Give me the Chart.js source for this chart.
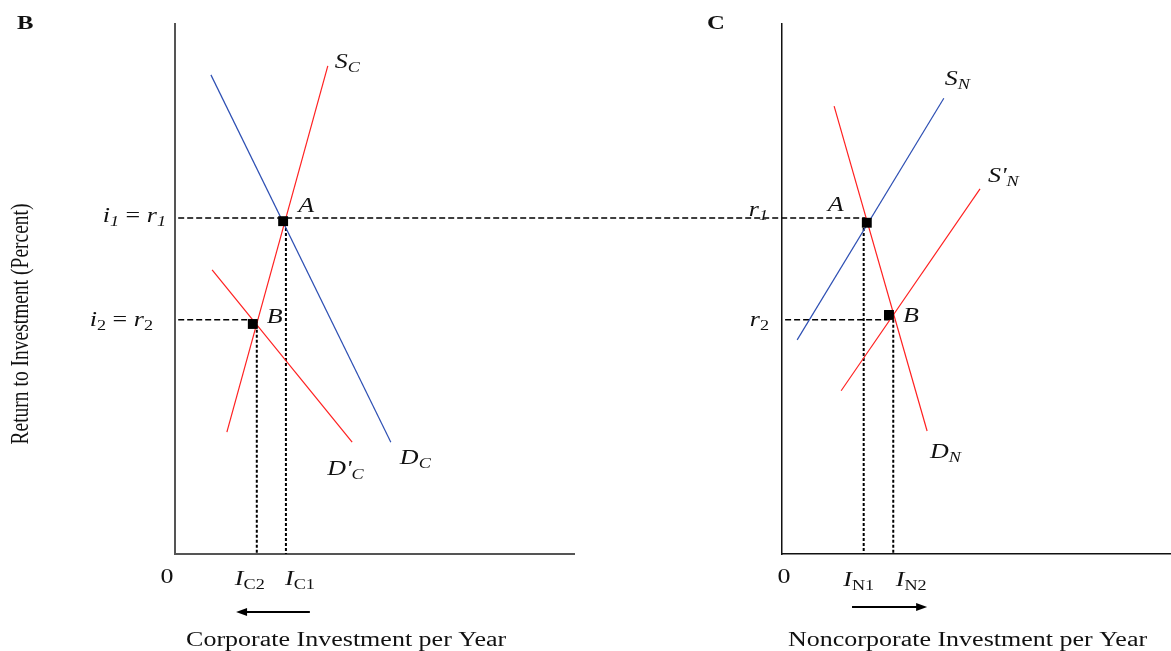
<!DOCTYPE html>
<html>
<head>
<meta charset="utf-8">
<script src="https://cdn.jsdelivr.net/npm/chart.js@4.4.1/dist/chart.umd.min.js"></script>
<style>
  body { margin: 0; background: #fff; }
  .wrap { position: relative; width: 1171px; height: 651px; }
  .wrap canvas { position: absolute; left: 0; top: 0; }
</style>
</head>
<body>
<div class="wrap">
  <canvas id="chartCorp" width="1171" height="651"></canvas>
  <canvas id="chartNonc" width="1171" height="651"></canvas>
</div>
<script>
// both panels use 0..100 units on each axis

// panel B - corporate sector
const supplyC   = [[13.0, 23.0], [38.3, 92.1]]
const demandC   = [[9.0, 90.4], [54.1, 21.1]]
const demandC2  = [[9.3, 53.6], [44.4, 21.1]]
const eqCorp    = [[27.1, 62.8], [19.5, 43.4]]     // A, B
const invCorp   = [27.8, 20.5]                     // I_C1, I_C2
const shiftCorp = [33.8, 15.3]                     // arrow from -> to

// panel C - noncorporate sector
const supplyN   = [[3.9, 40.4], [41.6, 86.0]]
const supplyN2  = [[15.2, 30.8], [50.9, 68.9]]
const demandN   = [[13.4, 84.5], [37.3, 23.2]]
const eqNonc    = [[21.8, 62.5], [27.5, 45.1]]     // A, B
const invNonc   = [21.0, 28.6]                     // I_N1, I_N2
const shiftNonc = [18.0, 37.3]

const rates   = [63.4, 44.2]   // r1, r2
const r1Reach = 173.2          // r1 guide runs across to point A of panel C (panel B units)

const SERIF = '"Liberation Serif", "DejaVu Serif", serif'
const STRETCH = 1.3
const RED = '#ff2020'
const BLUE = '#2d4fb3'

const pts = arr => arr.map(([x, y]) => ({ x, y }))

const seg = (arr, color, width, dash) => ({
    data: pts(arr), showLine: true, borderColor: color, borderWidth: width,
    borderDash: dash || [], pointRadius: 0, clip: false
})
const marks = arr => ({
    data: pts(arr), showLine: false, pointStyle: 'rect', pointRadius: 7,
    backgroundColor: '#000', borderColor: '#000', borderWidth: 0
})
const dashH = [6, 3]
const dashV = [3, 2]

function fontOf(style, size) {
    const it = style.includes('i') ? 'italic ' : ''
    const bd = style.includes('b') ? 'bold ' : ''
    const sub = style.includes('s')
    return {
        font: `${it}${bd}${sub ? Math.round(size * 0.72) : size}px ${SERIF}`,
        shift: sub ? Math.round(size * 0.22) : 0
    }
}

function drawRich(ctx, parts, x, y, align, size) {
    ctx.save()
    ctx.translate(x, y)
    ctx.scale(STRETCH, 1)
    let w = 0
    parts.forEach(([t, s]) => { ctx.font = fontOf(s, size).font; w += ctx.measureText(t).width })
    let cx = align === 'right' ? -w : align === 'center' ? -w / 2 : 0
    parts.forEach(([t, s]) => {
        const f = fontOf(s, size)
        ctx.font = f.font
        ctx.fillText(t, cx, f.shift)
        cx += ctx.measureText(t).width
    })
    ctx.restore()
}

function drawArrow(ctx, x1, x2, y) {
    const dir = Math.sign(x2 - x1)
    ctx.beginPath()
    ctx.moveTo(x1, y)
    ctx.lineTo(x2 - dir * 8, y)
    ctx.lineWidth = 2
    ctx.strokeStyle = '#000'
    ctx.stroke()
    ctx.beginPath()
    ctx.moveTo(x2, y)
    ctx.lineTo(x2 - dir * 11, y - 4)
    ctx.lineTo(x2 - dir * 11, y + 4)
    ctx.closePath()
    ctx.fill()
}

function textPlugin(cfg) {
    return {
        id: 'econText',
        afterDatasetsDraw(chart) {
            const { ctx, scales: { x, y }, chartArea } = chart
            ctx.save()
            ctx.fillStyle = '#111'
            cfg.labels.forEach(l => {
                drawRich(ctx, l.parts,
                    x.getPixelForValue(l.at[0]) + (l.dx || 0),
                    y.getPixelForValue(l.at[1]) + (l.dy || 0),
                    l.align || 'left', l.size || 20)
            })
            ctx.fillStyle = '#000'
            drawArrow(ctx, x.getPixelForValue(cfg.arrow[0]), x.getPixelForValue(cfg.arrow[1]), chartArea.bottom + cfg.arrowDy)
            if (cfg.yTitle) {
                ctx.save()
                ctx.translate(chartArea.left + cfg.yTitle.dx, y.getPixelForValue(cfg.yTitle.at))
                ctx.scale(STRETCH, 1)
                ctx.rotate(-Math.PI / 2)
                ctx.font = `19.5px ${SERIF}`
                ctx.textAlign = 'center'
                ctx.textBaseline = 'middle'
                ctx.fillStyle = '#111'
                ctx.fillText(cfg.yTitle.text, 0, 0)
                ctx.restore()
            }
            ctx.restore()
        }
    }
}

function axis(color, width) {
    return {
        type: 'linear', min: 0, max: 100,
        grid: { display: false, drawTicks: false },
        ticks: { display: false },
        border: { display: true, color, width }
    }
}

function makePanel(id, pad, cfg) {
    return new Chart(document.getElementById(id), {
        type: 'scatter',
        data: { datasets: cfg.datasets },
        options: {
            responsive: false,
            animation: false,
            events: [],
            layout: { padding: pad, autoPadding: false },
            plugins: { legend: { display: false }, tooltip: { enabled: false } },
            scales: { x: axis(cfg.axisColor, cfg.axisWidth), y: axis(cfg.axisColor, cfg.axisWidth) }
        },
        plugins: [textPlugin(cfg)]
    })
}

// panel B
makePanel('chartCorp', { left: 175, right: 597, top: 24, bottom: 97 }, {
    axisColor: '#555', axisWidth: 2,
    datasets: [
        marks(eqCorp),
        seg(supplyC, RED, 1.2),
        seg(demandC, BLUE, 1.2),
        seg(demandC2, RED, 1.2),
        seg([[0.8, rates[0]], [r1Reach, rates[0]]], '#000', 1.6, dashH),
        seg([[0.8, rates[1]], [eqCorp[1][0], rates[1]]], '#000', 1.6, dashH),
        seg([[invCorp[0], rates[0]], [invCorp[0], 0]], '#000', 2, dashV),
        seg([[invCorp[1], rates[1]], [invCorp[1], 0]], '#000', 2, dashV)
    ],
    labels: [
        { at: supplyC[1], dx: 7, dy: 2, parts: [['S', 'i'], ['C', 'is']] },
        { at: demandC[1], dx: 9, dy: 22, parts: [['D', 'i'], ['C', 'is']] },
        { at: demandC2[1], dx: -25, dy: 33, parts: [["D'", 'i'], ['C', 'is']] },
        { at: eqCorp[0], dx: 15, dy: -9, parts: [['A', 'i']] },
        { at: eqCorp[1], dx: 14, dy: -1, parts: [['B', 'i']] },
        { at: [0, rates[0]], dx: -9, dy: 4, align: 'right', parts: [['i', 'i'], ['1', 'is'], [' = ', 'r'], ['r', 'i'], ['1', 'is']] },
        { at: [0, rates[1]], dx: -22, dy: 6, align: 'right', parts: [['i', 'i'], ['2', 'rs'], [' = ', 'r'], ['r', 'i'], ['2', 'rs']] },
        { at: [0, 0], dx: -8, dy: 29, align: 'center', parts: [['0', 'r']] },
        { at: [invCorp[1], 0], dx: -7, dy: 31, align: 'center', parts: [['I', 'i'], ['C2', 'rs']] },
        { at: [invCorp[0], 0], dx: 14, dy: 31, align: 'center', parts: [['I', 'i'], ['C1', 'rs']] },
        { at: [0, 100], dx: -158, dy: 5, size: 19, parts: [['B', 'b']] },
        { at: [42.9, 0], dy: 92, align: 'center', parts: [['Corporate Investment per Year', 'r']] }
    ],
    arrow: shiftCorp, arrowDy: 58,
    yTitle: { text: 'Return to Investment (Percent)', at: 43.4, dx: -154 }
})

// panel C
makePanel('chartNonc', { left: 782, right: 0, top: 24, bottom: 97 }, {
    axisColor: '#111', axisWidth: 1.5,
    datasets: [
        marks(eqNonc),
        seg(supplyN, BLUE, 1.2),
        seg(supplyN2, RED, 1.2),
        seg(demandN, RED, 1.2),
        seg([[0.8, rates[1]], [eqNonc[1][0], rates[1]]], '#000', 1.6, dashH),
        seg([[invNonc[0], rates[0]], [invNonc[0], 0]], '#000', 2, dashV),
        seg([[invNonc[1], rates[1]], [invNonc[1], 0]], '#000', 2, dashV)
    ],
    labels: [
        { at: supplyN[1], dx: 1, dy: -13, parts: [['S', 'i'], ['N', 'is']] },
        { at: supplyN2[1], dx: 8, dy: -7, parts: [["S'", 'i'], ['N', 'is']] },
        { at: demandN[1], dx: 3, dy: 27, parts: [['D', 'i'], ['N', 'is']] },
        { at: eqNonc[0], dx: -39, dy: -12, parts: [['A', 'i']] },
        { at: eqNonc[1], dx: 14, dy: 7, parts: [['B', 'i']] },
        { at: [0, rates[0]], dx: -14, dy: -2, align: 'right', parts: [['r', 'i'], ['1', 'is']] },
        { at: [0, rates[1]], dx: -13, dy: 6, align: 'right', parts: [['r', 'i'], ['2', 'rs']] },
        { at: [0, 0], dx: 2, dy: 29, align: 'center', parts: [['0', 'r']] },
        { at: [invNonc[0], 0], dx: -5, dy: 32, align: 'center', parts: [['I', 'i'], ['N1', 'rs']] },
        { at: [invNonc[1], 0], dx: 18, dy: 32, align: 'center', parts: [['I', 'i'], ['N2', 'rs']] },
        { at: [0, 100], dx: -75, dy: 5, size: 19, parts: [['C', 'b']] },
        { at: [47.7, 0], dy: 92, align: 'center', parts: [['Noncorporate Investment per Year', 'r']] }
    ],
    arrow: shiftNonc, arrowDy: 53
})
</script>
</body>
</html>
